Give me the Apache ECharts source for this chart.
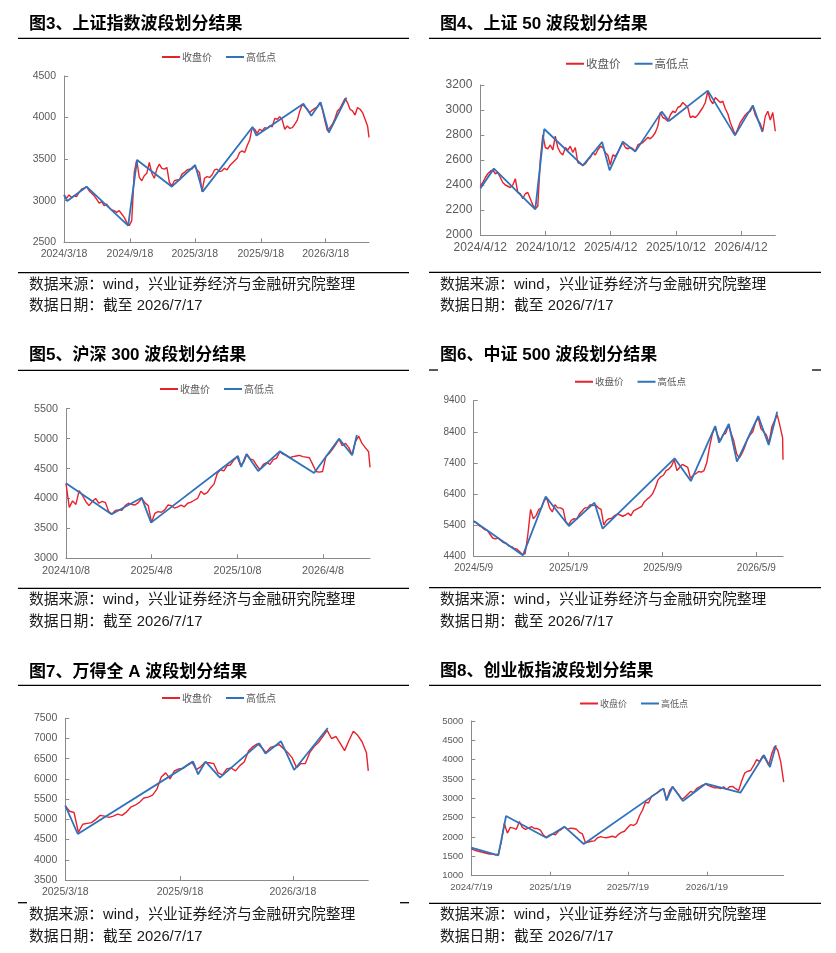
<!DOCTYPE html>
<html>
<head>
<meta charset="utf-8">
<script src="https://cdn.jsdelivr.net/npm/echarts@6/dist/echarts.min.js"></script>
<style>
  html, body { margin: 0; padding: 0; background: #fff; }
  #main { width: 836px; height: 953px; }
</style>
</head>
<body>
<div id="main"></div>
<script>
// 图3 上证指数：周度收盘价（从起始日起每7天一个点）+ 最后一日
const szStart = '2024-03-18'
const szClose = [
  3070, 3030, 3070, 3040, 3060, 3050, 3100,   // 2024/3-4
  3140, 3150, 3170, 3120,                     // 5
  3090, 3060, 3020, 2970,                     // 6
  2990, 2940, 2960, 2920, 2890,               // 7
  2880, 2860, 2880, 2840,                     // 8
  2800, 2740, 2700, 2760, 3340,               // 9
  3490, 3280, 3240, 3300,                     // 10
  3330, 3460, 3330, 3270,                     // 11
  3380, 3440, 3390, 3380, 3400,               // 12
  3220, 3180, 3240, 3250,                     // 2025/1
  3250, 3320, 3340, 3370,                     // 2
  3380, 3380, 3420, 3370, 3340,               // 3
  3110, 3270, 3290, 3280,                     // 4
  3310, 3370, 3380, 3350,                     // 5
  3360, 3390, 3370, 3420, 3450,               // 6
  3480, 3510, 3580, 3600,                     // 7
  3580, 3660, 3730, 3880,                     // 8
  3860, 3810, 3860, 3840, 3880,               // 9
  3870, 3900, 3890, 3990,                     // 10
  3980, 4010, 3970, 3860,                     // 11
  3900, 3870, 3880, 3920, 3970,               // 12
  4080, 4160, 4130, 4100,                     // 2026/1
  4060, 4090, 4110, 4130,                     // 2
  4180, 4100, 3960, 3840, 3880,               // 3
  3920, 3990, 4080, 4110,                     // 4
  4170, 4230, 4180, 4100,                     // 5
  4080, 4030, 4120, 4100, 4060,               // 6
  3980, 3900                                  // 7
]
const szLast = ['2026-07-17', 3760]
const szPivots = [
  ['2024-03-18', 3069], ['2024-03-27', 2997], ['2024-05-20', 3169], ['2024-09-13', 2700],
  ['2024-10-08', 3490], ['2025-01-13', 3169], ['2025-03-19', 3430], ['2025-04-09', 3109],
  ['2025-08-26', 3887], ['2025-09-06', 3783], ['2026-01-15', 4167], ['2026-02-06', 4023],
  ['2026-03-04', 4183], ['2026-03-27', 3819], ['2026-05-15', 4240]
]
const szTicks = ['2024-03-18', '2024-09-18', '2025-03-18', '2025-09-18', '2026-03-18']
const szY = [2500, 4500, 500]

// 图4 上证50
const sz50Start = '2024-04-12'
const sz50Close = [
  2390, 2420, 2460,                           // 2024/4
  2490, 2510, 2520, 2490, 2500,               // 5
  2460, 2420, 2400, 2390,                     // 6
  2380, 2400, 2450, 2340,                     // 7
  2330, 2290, 2330, 2340, 2290,               // 8
  2240, 2210, 2230, 2600,                     // 9
  2800, 2700, 2690, 2720,                     // 10
  2680, 2790, 2700, 2660, 2640,               // 11
  2700, 2680, 2710, 2660,                     // 12
  2700, 2580, 2570, 2560, 2570,               // 2025/1
  2600, 2620, 2660, 2640,                     // 2
  2680, 2710, 2700, 2660,                     // 3
  2640, 2560, 2640, 2630,                     // 4
  2660, 2700, 2740, 2700, 2690,               // 5
  2700, 2690, 2670, 2720,                     // 6
  2730, 2740, 2760, 2780,                     // 7
  2770, 2790, 2820, 2870, 2980,               // 8
  2940, 2930, 2910, 2960,                     // 9
  2990, 2980, 3020, 3030, 3060,               // 10
  3040, 3020, 2940, 2950,                     // 11
  2940, 2960, 2990, 3020,                     // 12
  3060, 3150, 3080, 3050, 3100,               // 2026/1
  3080, 3060, 3070, 3010,                     // 2
  2970, 2900, 2850, 2800,                     // 3
  2850, 2900, 2930, 2960,                     // 4
  2980, 2990, 3030, 2960, 2920,               // 5
  2890, 2830, 2950, 2990,                     // 6
  2920, 2980, 2830                            // 7
]
const sz50Last = null
const sz50Pivots = [
  ['2024-04-12', 2373], ['2024-05-20', 2531], ['2024-09-13', 2205], ['2024-10-08', 2848],
  ['2025-01-24', 2555], ['2025-03-19', 2744], ['2025-04-09', 2517], ['2025-05-16', 2747],
  ['2025-06-20', 2667], ['2025-09-02', 2987], ['2025-09-22', 2912], ['2026-01-09', 3155],
  ['2026-03-26', 2797], ['2026-05-15', 3037], ['2026-06-11', 2824]
]
const sz50Ticks = ['2024-04-12', '2024-10-12', '2025-04-12', '2025-10-12', '2026-04-12']
const sz50Y = [2000, 3200, 200]

// 图5 沪深300
const hsStart = '2024-10-08'
const hsClose = [
  4250, 3850, 3960, 3900,                     // 2024/10
  4130, 4050, 3950, 3880,                     // 11
  3950, 4000, 3920, 3950, 3930,               // 12
  3780, 3740, 3800, 3810,                     // 2025/1
  3800, 3880, 3920, 3900,                     // 2
  3890, 3930, 4000, 3930,                     // 3
  3880, 3600, 3750, 3780, 3770,               // 4
  3810, 3890, 3880, 3840,                     // 5
  3860, 3890, 3860, 3920,                     // 6
  3940, 3970, 4000, 4120, 4070,               // 7
  4100, 4180, 4240, 4420,                     // 8
  4480, 4460, 4550, 4560, 4640,               // 9
  4700, 4560, 4600, 4740,                     // 10
  4660, 4640, 4550, 4480,                     // 11
  4570, 4600, 4570, 4650, 4670,               // 12
  4780, 4740, 4720, 4680,                     // 2026/1
  4700, 4710, 4720, 4700,                     // 2
  4690, 4680, 4570, 4450, 4440,               // 3
  4450, 4700, 4750, 4820,                     // 4
  4900, 4990, 4880, 4920,                     // 5
  4850, 4730, 4950, 5040, 4920,               // 6
  4850, 4780                                  // 7
]
const hsLast = ['2026-07-17', 4520]
const hsPivots = [
  ['2024-10-08', 4253], ['2025-01-13', 3735], ['2025-03-18', 4013], ['2025-04-07', 3596],
  ['2025-10-09', 4709], ['2025-10-16', 4526], ['2025-10-27', 4743], ['2025-11-21', 4459],
  ['2026-01-06', 4787], ['2026-03-20', 4425], ['2026-05-12', 4999], ['2026-06-09', 4721],
  ['2026-06-19', 5060]
]
const hsTicks = ['2024-10-08', '2025-04-08', '2025-10-08', '2026-04-08']
const hsY = [3000, 5500, 500]

// 图6 中证500
const zzStart = '2024-05-09'
const zzClose = [
  5500, 5480, 5380, 5330,                     // 2024/5
  5250, 5230, 5100, 4980,                     // 6
  4950, 4980, 4900, 4830,                     // 7
  4810, 4720, 4700, 4640, 4620,               // 8
  4540, 4450, 4480, 5100,                     // 9
  5900, 5600, 5700, 5900, 5950,               // 10
  6200, 6250, 5950, 5820,                     // 11
  6050, 5950, 5950, 5900,                     // 12
  5500, 5400, 5550, 5600, 5580,               // 2025/1
  5750, 5850, 5950, 5950,                     // 2
  6050, 6020, 6040, 5950,                     // 3
  5900, 5400, 5550, 5600,                     // 4
  5620, 5700, 5750, 5720, 5680,               // 5
  5720, 5780, 5700, 5850,                     // 6
  5900, 5950, 6000, 6150, 6230,               // 7
  6300, 6400, 6600, 6850,                     // 8
  6950, 7000, 7150, 7200,                     // 9
  7300, 7500, 7150, 7250, 7350,               // 10
  7300, 7250, 6900, 7000,                     // 11
  7050, 7120, 7100, 7150,                     // 12
  7400, 7900, 8300, 8550, 8300,               // 2026/1
  8100, 8300, 8350, 8600,                     // 2
  8350, 8100, 7700, 7550,                     // 3
  7700, 7900, 8150, 8300, 8400,               // 4
  8700, 8850, 8500, 8400,                     // 5
  8300, 8050, 8550, 8750,                     // 6
  8950, 8600, 8200                            // 7
]
const zzLast = ['2026-07-17', 7500]
const zzPivots = [
  ['2024-05-09', 5527], ['2024-09-13', 4421], ['2024-11-11', 6310], ['2025-01-10', 5366],
  ['2025-03-17', 6117], ['2025-04-07', 5280], ['2025-10-10', 7544], ['2025-11-21', 6814],
  ['2026-01-23', 8585], ['2026-02-02', 8048], ['2026-02-27', 8649], ['2026-03-20', 7437],
  ['2026-05-14', 8907], ['2026-06-10', 7973], ['2026-07-02', 9046]
]
const zzTicks = ['2024-05-09', '2025-01-09', '2025-09-09', '2026-05-09']
const zzY = [4400, 9400, 1000]

// 图7 万得全A
const wdStart = '2025-03-18'
const wdClose = [
  5330, 5200,                                 // 2025/3
  5170, 4680, 4880, 4900, 4920,               // 4
  5000, 5100, 5080, 5050,                     // 5
  5080, 5130, 5100, 5180,                     // 6
  5300, 5350, 5420, 5530, 5550,               // 7
  5600, 5750, 6050, 6150,                     // 8
  6000, 6200, 6250, 6260, 6350,               // 9
  6420, 6230, 6300, 6410,                     // 10
  6400, 6380, 6150, 6100,                     // 11
  6250, 6270, 6200, 6330, 6420,               // 12
  6700, 6800, 6870, 6780,                     // 2026/1
  6650, 6780, 6810, 6850,                     // 2
  6750, 6650, 6520, 6280, 6380,               // 3
  6380, 6650, 6800, 6900,                     // 4
  7050, 7200, 7000, 7050,                     // 5
  6880, 6700, 6950, 7180, 7080,               // 6
  6920, 6650                                  // 7
]
const wdLast = ['2026-07-17', 6200]
const wdPivots = [
  ['2025-03-18', 5339], ['2025-04-07', 4638], ['2025-10-09', 6428], ['2025-10-17', 6114],
  ['2025-10-29', 6428], ['2025-11-21', 6032], ['2026-01-23', 6881], ['2026-02-02', 6626],
  ['2026-02-27', 6931], ['2026-03-20', 6222], ['2026-05-13', 7261]
]
const wdTicks = ['2025-03-18', '2025-09-18', '2026-03-18']
const wdY = [3500, 7500, 500]

// 图8 创业板指
const cybStart = '2024-07-19'
const cybClose = [
  1700, 1660,                                 // 2024/7
  1640, 1620, 1600, 1580, 1560,               // 8
  1560, 1540, 1560, 1880,                     // 9
  2350, 2100, 2250, 2230,                     // 10
  2200, 2400, 2250, 2200, 2230,               // 11
  2270, 2220, 2220, 2180,                     // 12
  2050, 1990, 2050, 2080, 2060,               // 2025/1
  2150, 2200, 2260, 2200,                     // 2
  2230, 2220, 2200, 2120,                     // 3
  2080, 1850, 1870, 1890,                     // 4
  1900, 1980, 2010, 1990, 1980,               // 5
  2000, 2020, 1990, 2070,                     // 6
  2120, 2150, 2240, 2320,                     // 7
  2300, 2350, 2550, 2700, 2900,               // 8
  2880, 3050, 3100, 3150,                     // 9
  3220, 3250, 2950, 3200, 3300,               // 10
  3200, 3100, 2980, 3020,                     // 11
  3100, 3180, 3150, 3250,                     // 12
  3300, 3340, 3370, 3330, 3300,               // 2026/1
  3270, 3280, 3250, 3300,                     // 2
  3230, 3300, 3310, 3250,                     // 3
  3200, 3450, 3650, 3700,                     // 4
  3720, 3850, 4000, 3950, 4100,               // 5
  4000, 3850, 4150, 4350,                     // 6
  4250, 3950, 3420                            // 7
]
const cybLast = null
const cybPivots = [
  ['2024-07-19', 1724], ['2024-09-20', 1526], ['2024-10-08', 2543], ['2025-01-10', 1983],
  ['2025-02-21', 2267], ['2025-04-07', 1819], ['2025-10-10', 3258], ['2025-10-17', 2948],
  ['2025-10-31', 3302], ['2025-11-24', 2931], ['2026-01-16', 3379], ['2026-04-07', 3146],
  ['2026-06-01', 4120], ['2026-06-15', 3810], ['2026-06-29', 4370]
]
const cybTicks = ['2024-07-19', '2025-01-19', '2025-07-19', '2026-01-19']
const cybY = [1000, 5000, 500]

const endDate = '2026-07-17'
const legendNames = ['收盘价', '高低点']
const sourceLines = ['数据来源：wind，兴业证券经济与金融研究院整理', '数据日期：截至 2026/7/17']

const RED = '#E8222C'
const BLUE = '#2E73BC'
const LATIN = "'Liberation Sans', 'Noto Sans CJK SC', sans-serif"

// 版面：两列三行
const cols = [{ x1: 18, x2: 409, tx: 29 }, { x1: 429, x2: 821, tx: 440 }]

const panels = [
  { title: '图3、上证指数波段划分结果', col: 0, titleY: 24, topLine: 38.3, bottomLine: 272.7, srcY: [284.5, 305.5],
    grid: [64, 76, 305, 166.3], legend: [162, 57, 10], fs: 10.5,
    start: szStart, close: szClose, last: szLast, pivots: szPivots, ticks: szTicks, y: szY },
  { title: '图4、上证 50 波段划分结果', col: 1, titleY: 24, topLine: 38.3, bottomLine: 272.3, srcY: [284.5, 305.5],
    grid: [480.3, 85, 295, 150], legend: [566, 63, 11.5], fs: 12,
    start: sz50Start, close: sz50Close, last: sz50Last, pivots: sz50Pivots, ticks: sz50Ticks, y: sz50Y },
  { title: '图5、沪深 300 波段划分结果', col: 0, titleY: 355, topLine: 370.3, bottomLine: 588.3, srcY: [599.5, 621.5],
    grid: [66, 408.7, 304, 149.6], legend: [160, 389, 10], fs: 10.8,
    start: hsStart, close: hsClose, last: hsLast, pivots: hsPivots, ticks: hsTicks, y: hsY },
  { title: '图6、中证 500 波段划分结果', col: 1, titleY: 355, topLine: 370, topCut: true, bottomLine: 587.7, srcY: [599.5, 621.5],
    grid: [473.7, 400.7, 309.3, 155.3], legend: [575, 382, 9.5], fs: 10,
    start: zzStart, close: zzClose, last: zzLast, pivots: zzPivots, ticks: zzTicks, y: zzY },
  { title: '图7、万得全 A 波段划分结果', col: 0, titleY: 672, topLine: 685.3, bottomLine: 902.7, bottomCut: true, srcY: [914.5, 936.5],
    grid: [65.3, 718.3, 303, 161.7], legend: [162, 698, 10], fs: 10.5,
    start: wdStart, close: wdClose, last: wdLast, pivots: wdPivots, ticks: wdTicks, y: wdY },
  { title: '图8、创业板指波段划分结果', col: 1, titleY: 671.7, topLine: 685.3, bottomLine: 903.3, srcY: [914.5, 936.5],
    grid: [471.3, 721, 312.4, 154.7], legend: [580, 704, 9], fs: 9.5,
    start: cybStart, close: cybClose, last: cybLast, pivots: cybPivots, ticks: cybTicks, y: cybY }
]

const DAY = 86400000
const dayNum = s => { const p = s.split('-'); return Date.UTC(+p[0], p[1] - 1, +p[2]) / DAY }
const fmtDay = v => { const d = new Date(Math.round(v) * DAY); return d.getUTCFullYear() + '/' + (d.getUTCMonth() + 1) + '/' + d.getUTCDate() }

// 周度收盘价转成 [日, 值]
const weekly = (start, vals, last) => {
  const s = dayNum(start)
  const out = vals.map((v, i) => [s + 7 * i, v])
  if (last) out.push([dayNum(last[0]), last[1]])
  return out
}

const option = {
  animation: false,
  backgroundColor: '#fff',
  grid: [], xAxis: [], yAxis: [], legend: [], series: [], graphic: []
}

const hline = (x1, x2, y) => ({
  type: 'line', silent: true,
  shape: { x1, y1: y, x2, y2: y },
  style: { stroke: '#000', lineWidth: 1.3 }
})
const text = (x, y, str, font, fill) => ({
  type: 'text', silent: true, x, y,
  style: { text: str, font, fill, verticalAlign: 'middle', align: 'left' }
})

panels.forEach((p, i) => {
  const c = cols[p.col]
  const [gl, gt, gw, gh] = p.grid
  const ticks = p.ticks.map(dayNum)

  option.grid.push({ left: gl, top: gt, width: gw, height: gh, outerBoundsMode: 'none' })

  option.xAxis.push({
    type: 'value', gridIndex: i,
    min: dayNum(p.start), max: dayNum(endDate),
    axisLine: { show: true, lineStyle: { color: '#8a8a8a', width: 1 } },
    axisTick: { show: true, inside: true, length: 4, customValues: ticks, lineStyle: { color: '#8a8a8a' } },
    axisLabel: { customValues: ticks, formatter: fmtDay, color: '#595959', fontSize: p.fs, fontFamily: LATIN, margin: 7 },
    splitLine: { show: false }
  })

  option.yAxis.push({
    type: 'value', gridIndex: i,
    min: p.y[0], max: p.y[1], interval: p.y[2],
    axisLine: { show: true, lineStyle: { color: '#8a8a8a', width: 1 } },
    axisTick: { show: true, inside: true, length: 4, lineStyle: { color: '#8a8a8a' } },
    axisLabel: { formatter: v => String(v), color: '#595959', fontSize: p.fs, fontFamily: LATIN, margin: 8 },
    splitLine: { show: false }
  })

  // 图例：图标与文字靠得很近
  option.legend.push({
    data: legendNames.map(n => ({ name: n, icon: 'rect' })),
    left: p.legend[0], top: p.legend[1] - 5, padding: 0,
    itemWidth: 18, itemHeight: 2, itemGap: 14,
    textStyle: { color: '#595959', fontSize: p.legend[2], fontFamily: "'Noto Sans CJK SC'", padding: [0, 0, 0, -3] },
    selectedMode: false
  })

  option.series.push({
    name: '收盘价', type: 'line', xAxisIndex: i, yAxisIndex: i,
    data: weekly(p.start, p.close, p.last),
    symbol: 'none', lineStyle: { color: RED, width: 1.4 }, itemStyle: { color: RED }
  })
  option.series.push({
    name: '高低点', type: 'line', xAxisIndex: i, yAxisIndex: i,
    data: p.pivots.map(d => [dayNum(d[0]), d[1]]),
    symbol: 'none', lineStyle: { color: BLUE, width: 1.8 }, itemStyle: { color: BLUE }
  })

  // 标题、分隔线、数据来源
  option.graphic.push(text(c.tx, p.titleY, p.title, 'bold 17px ' + LATIN, '#000'))
  if (p.topCut) {
    option.graphic.push(hline(c.x1, c.x1 + 9, p.topLine), hline(c.x2 - 9, c.x2, p.topLine))
  } else {
    option.graphic.push(hline(c.x1, c.x2, p.topLine))
  }
  if (p.bottomCut) {
    option.graphic.push(hline(c.x1, c.x1 + 9, p.bottomLine), hline(c.x2 - 9, c.x2, p.bottomLine))
  } else {
    option.graphic.push(hline(c.x1, c.x2, p.bottomLine))
  }
  option.graphic.push(text(c.tx, p.srcY[0], sourceLines[0], '14.8px ' + LATIN, '#1a1a1a'))
  option.graphic.push(text(c.tx, p.srcY[1], sourceLines[1], '14.8px ' + LATIN, '#1a1a1a'))
})

const chart = echarts.init(document.getElementById('main'), null, { renderer: 'canvas' })
chart.setOption(option)
</script>
</body>
</html>
